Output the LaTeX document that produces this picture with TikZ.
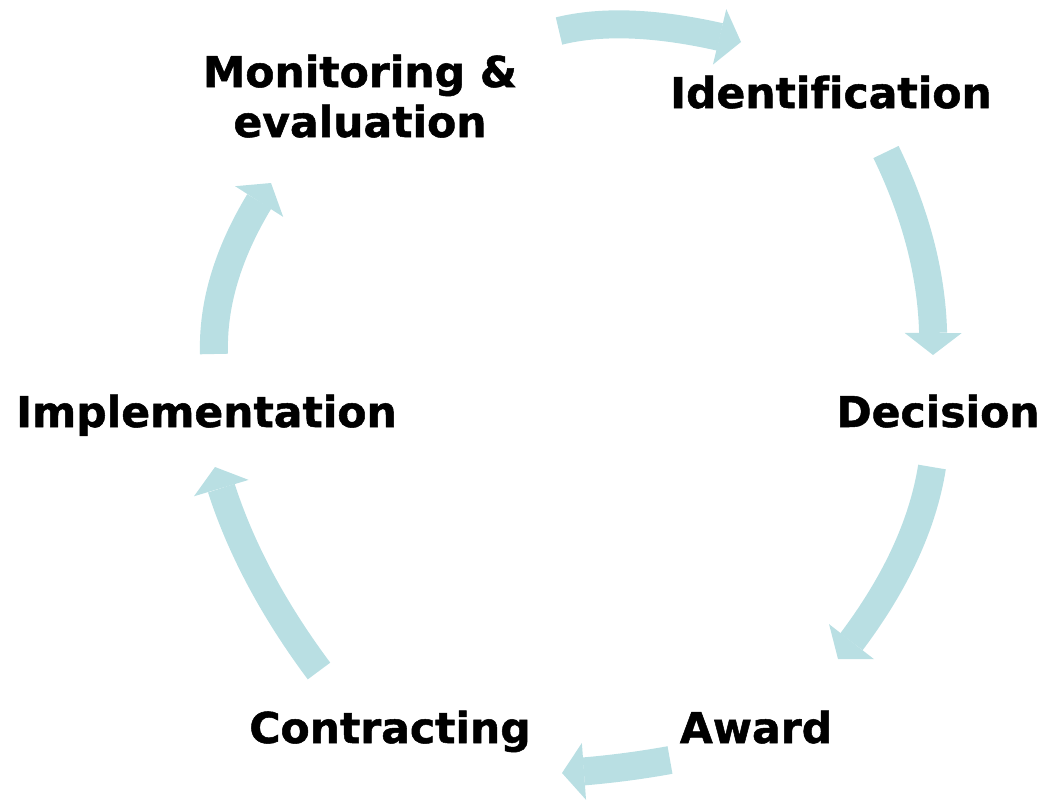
\documentclass[tikz,border=0pt]{standalone}
\usepackage{fontspec}
\setmainfont{DejaVu Sans}[Ligatures=NoCommon, BoldFeatures={FakeBold=1.2}]
\usetikzlibrary{arrows.meta,bending}
\definecolor{cyc}{RGB}{185,223,227}
\begin{document}
\begin{tikzpicture}[x=1pt,y=-1pt,
  lbl/.style={font=\fontsize{42.5}{50}\selectfont\bfseries, anchor=base, inner sep=0pt, align=center, text=black},
  cycarrow/.style={draw=cyc, line width=28pt, line cap=butt,
    -{Triangle[width=57pt,length=22pt,line width=0pt]}}]
\useasboundingbox (0,0) rectangle (1044,801);
% labels
\node[lbl] (ident) at (831,108) {Identification};
\node[lbl] (decis) at (938,427) {Decision};
\node[lbl] (award) at (756,743) {Award};
\node[lbl] (contr) at (390,743) {Contracting};
\node[lbl] (impl)  at (206.5,427) {Implementation};
\node[lbl] (moni)  at (360,137) {Monitoring \&\\evaluation};
% arrow end points
\coordinate (a1s) at (559,31);  \coordinate (a1e) at (741,42);
\coordinate (a2s) at (886,152); \coordinate (a2e) at (933,355);
\coordinate (a3s) at (932,467); \coordinate (a3e) at (838,659);
\coordinate (a4s) at (670,760); \coordinate (a4e) at (562,773);
\coordinate (a5s) at (319,671); \coordinate (a5e) at (215,467);
\coordinate (a6s) at (214,354); \coordinate (a6e) at (271,183);
% arrows
\draw[cycarrow] (a1s) .. controls (606.3,19.3) and (667,23) .. (a1e);
\draw[cycarrow] (a2s) .. controls (919.7,221.7) and (935.3,289.3) .. (a2e);
\draw[cycarrow] (a3s) .. controls (922,529.7) and (890.7,593.7) .. (a3e);
\draw[cycarrow] (a4s) .. controls (635.3,766.3) and (599.3,770.7) .. (a4e);
\draw[cycarrow] (a5s) .. controls (268.3,603) and (233.7,535) .. (a5e);
\draw[cycarrow] (a6s) .. controls (212.3,299) and (231.3,242) .. (a6e);
\end{tikzpicture}
\end{document}
